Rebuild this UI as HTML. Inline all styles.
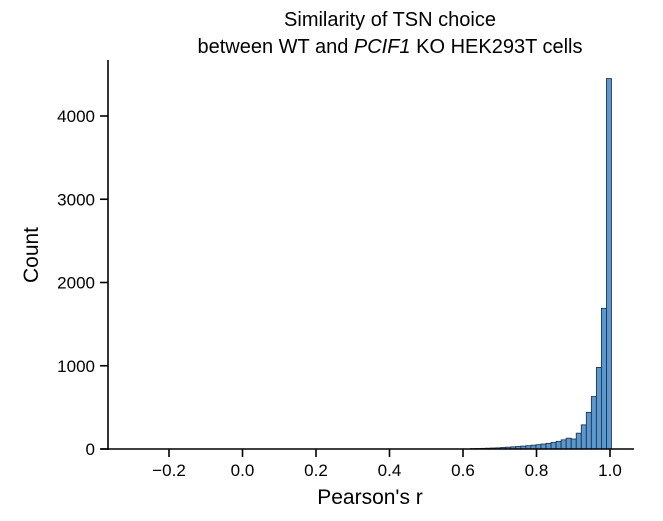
<!DOCTYPE html>
<html><head><meta charset="utf-8"><style>
body{margin:0;background:#fff;}
svg text{font-family:"Liberation Sans",Arial,sans-serif;fill:#000;}
</style></head><body>
<svg id="chart" width="663" height="516" viewBox="0 0 663 516" xmlns="http://www.w3.org/2000/svg">
<text x="390" y="26" font-size="20" text-anchor="middle">Similarity of TSN choice</text>
<text x="390" y="53" font-size="20" text-anchor="middle">between WT and <tspan font-style="italic">PCIF1</tspan> KO HEK293T cells</text>
<text transform="translate(38,255) rotate(-90)" font-size="21" text-anchor="middle">Count</text>
<text x="370" y="504" font-size="21" text-anchor="middle">Pearson's r</text>
<g id="bars"></g>
<g id="axes"></g>
</svg>
<script>
const binStart = -0.366;
const binWidth = 0.0137;
const counts = [];
const tailCounts = [5,6,8,10,12,14,18,22,26,30,35,40,46,52,60,68,78,92,110,130,120,190,290,440,630,980,1690,4450];
const xTicks = [-0.2,0.0,0.2,0.4,0.6,0.8,1.0];
const xTickLabels = ["\u22120.2","0.0","0.2","0.4","0.6","0.8","1.0"];
const yTicks = [0,1000,2000,3000,4000];
const yTickLabels = ["0","1000","2000","3000","4000"];
for(let i=0;i<100-tailCounts.length;i++) counts.push(0);
for(const c of tailCounts) counts.push(c);

const NS="http://www.w3.org/2000/svg";
const xs = v => 242.5 + (v)*367.5;
const ys = v => 449 - v*0.08325;
const bars=document.getElementById('bars');
const axes=document.getElementById('axes');
function mk(tag,attrs,parent){const e=document.createElementNS(NS,tag);for(const k in attrs)e.setAttribute(k,attrs[k]);parent.appendChild(e);return e;}
counts.forEach((c,i)=>{
  if(c<=0) return;
  const x0=xs(binStart+i*binWidth), x1=xs(binStart+(i+1)*binWidth);
  const r=mk('rect',{x:x0,y:ys(c),width:x1-x0,height:449-ys(c),fill:'#5a98cf',stroke:'#1a2a3a','stroke-width':0.8},bars);
  
  
});
const ya=mk('line',{x1:108,y1:60,x2:108,y2:450,stroke:'#000','stroke-width':1.6},axes);


const xa=mk('line',{x1:101,y1:449,x2:634,y2:449,stroke:'#000','stroke-width':1.6},axes);


xTicks.forEach((v,i)=>{
  const t=mk('line',{x1:xs(v),y1:449,x2:xs(v),y2:457,stroke:'#000','stroke-width':1.6},axes);
  
  
  const l=mk('text',{x:xs(v),y:476,'font-size':17,'text-anchor':'middle'},axes);
  l.textContent=xTickLabels[i];
  
  
});
yTicks.forEach((v,i)=>{
  const t=mk('line',{x1:100,y1:ys(v),x2:108,y2:ys(v),stroke:'#000','stroke-width':1.6},axes);
  
  
  const l=mk('text',{x:95,y:ys(v)+6,'font-size':17,'text-anchor':'end'},axes);
  l.textContent=yTickLabels[i];
  
  
});
</script>
</body></html>
